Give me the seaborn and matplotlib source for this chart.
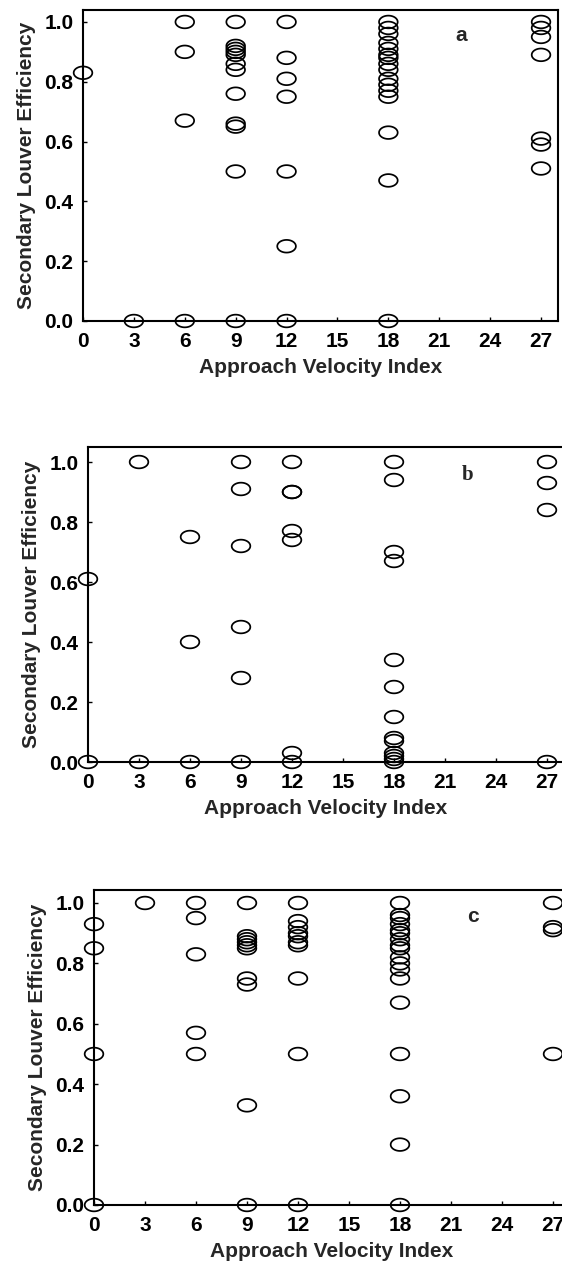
import numpy as np
import pandas as pd
import matplotlib
matplotlib.use("Agg")
import matplotlib.pyplot as plt
import seaborn as sns
from matplotlib.path import Path

# ---------------- data ----------------
velocity_ticks = [0, 3, 6, 9, 12, 15, 18, 21, 24, 27]
eff_ticks = [0.0, 0.2, 0.4, 0.6, 0.8, 1.0]

a_vel = [0, 3, 6, 9, 12, 18, 27]
a_eff = [
    [0.83],
    [0.0],
    [1.0, 0.90, 0.67, 0.0],
    [1.0, 0.92, 0.91, 0.90, 0.89, 0.86, 0.84, 0.76, 0.66, 0.65, 0.50, 0.0],
    [1.0, 0.88, 0.81, 0.75, 0.50, 0.25, 0.0],
    [1.0, 0.98, 0.96, 0.93, 0.91, 0.89, 0.88, 0.86, 0.84, 0.81, 0.79, 0.77, 0.75, 0.63, 0.47, 0.0],
    [1.0, 0.98, 0.95, 0.89, 0.61, 0.59, 0.51],
]

b_vel = [0, 3, 6, 9, 12, 18, 27]
b_eff = [
    [0.61, 0.0],
    [1.0, 0.0],
    [0.75, 0.40, 0.0],
    [1.0, 0.91, 0.72, 0.45, 0.28, 0.0],
    [1.0, 0.90, 0.90, 0.77, 0.74, 0.03, 0.0],
    [1.0, 0.94, 0.70, 0.67, 0.34, 0.25, 0.15, 0.08, 0.07, 0.03, 0.02, 0.01, 0.0],
    [1.0, 0.93, 0.84, 0.0],
]

c_vel = [0, 3, 6, 9, 12, 18, 27]
c_eff = [
    [0.93, 0.85, 0.50, 0.0],
    [1.0],
    [1.0, 0.95, 0.83, 0.57, 0.50],
    [1.0, 0.89, 0.88, 0.87, 0.86, 0.85, 0.75, 0.73, 0.33, 0.0],
    [1.0, 0.94, 0.92, 0.90, 0.89, 0.87, 0.86, 0.75, 0.50, 0.0],
    [1.0, 0.96, 0.95, 0.93, 0.91, 0.90, 0.88, 0.86, 0.85, 0.82, 0.80, 0.78, 0.75, 0.67, 0.50, 0.36, 0.20, 0.0],
    [1.0, 0.92, 0.91, 0.50],
]

panel_letters = ["a", "b", "c"]
x_label = "Approach Velocity Index"
y_label = "Secondary Louver Efficiency"

# ---------------- style ----------------
sns.set_style("ticks")
plt.rcParams["font.family"] = ["Liberation Sans", "DejaVu Sans"]
plt.rcParams["font.weight"] = "bold"
plt.rcParams["axes.labelweight"] = "bold"

theta = np.linspace(0, 2 * np.pi, 73)
ellipse = Path(np.column_stack([np.cos(theta), 0.68 * np.sin(theta)]), closed=True)

W, H = 562, 1268
fig = plt.figure(figsize=(W / 100, H / 100), dpi=100)

# (left px, top px, width px, height px, ymax)
layouts = [
    (83, 10, 475, 311, 1.04),
    (88, 447, 476, 315, 1.05),
    (94, 890, 476, 315, 1.043),
]

datasets = [(a_vel, a_eff), (b_vel, b_eff), (c_vel, c_eff)]

for (left, top, w, h, ymax), (vel, eff), letter in zip(layouts, datasets, panel_letters):
    ax = fig.add_axes([left / W, 1 - (top + h) / H, w / W, h / H])
    xs, ys = [], []
    for v, col in zip(vel, eff):
        for e in col:
            xs.append(v)
            ys.append(e)
    df = pd.DataFrame({"velocity": xs, "efficiency": ys})
    sns.scatterplot(data=df, x="velocity", y="efficiency", ax=ax,
                    marker=ellipse, s=180, linewidth=1.25,
                    clip_on=False, legend=False)
    for coll in ax.collections:
        coll.set_facecolor("none")
        coll.set_edgecolor("black")
        coll.set_linewidth(1.25)
        coll.set_clip_on(False)
    ax.set_xlim(0, 28)
    ax.set_ylim(0, ymax)
    ax.set_xticks(velocity_ticks)
    ax.set_yticks(eff_ticks)
    ax.set_yticklabels([f"{t:.1f}" for t in eff_ticks])
    ax.tick_params(direction="in", length=3, width=1, labelsize=15,
                   colors="black")
    ax.tick_params(axis="x", pad=8)
    ax.tick_params(axis="y", pad=7)
    for lab in ax.get_xticklabels() + ax.get_yticklabels():
        lab.set_fontweight("bold")
    for sp in ax.spines.values():
        sp.set_visible(True)
        sp.set_linewidth(1.5)
        sp.set_color("black")
    ax.set_xlabel(x_label, fontsize=15, fontweight="bold", labelpad=5)
    ax.set_ylabel(y_label, fontsize=15, fontweight="bold", labelpad=6)
    fam = ["Liberation Serif", "DejaVu Serif"] if letter == "b" else ["Liberation Sans", "DejaVu Sans"]
    ax.text(22.3, 0.955, letter, fontsize=15, fontweight="bold",
            family=fam, ha="center", va="center")

fig.savefig("out.png", dpi=100)
